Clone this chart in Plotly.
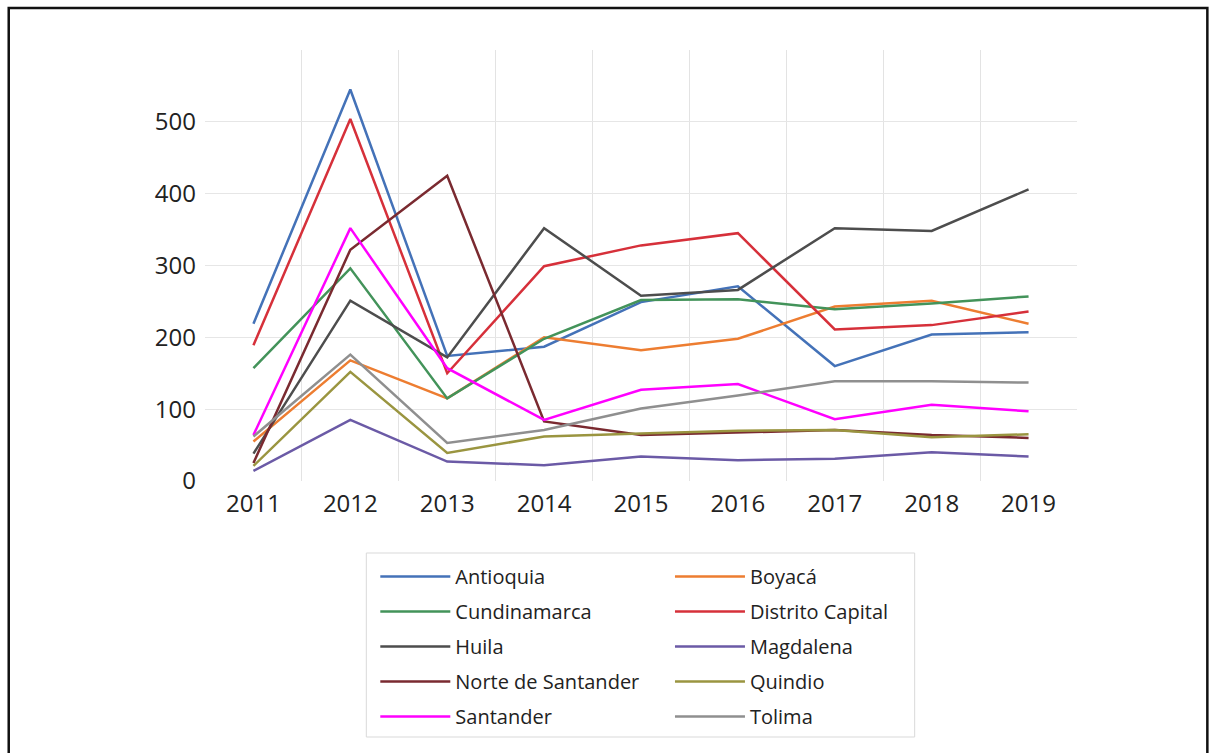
import plotly.graph_objects as go

years = ["2011", "2012", "2013", "2014", "2015", "2016", "2017", "2018", "2019"]

antioquia = [219, 545, 174, 187, 249, 271, 160, 204, 207]
boyaca = [55, 168, 115, 200, 182, 198, 243, 251, 219]
cundinamarca = [157, 296, 115, 198, 252, 253, 239, 247, 257]
distrito_capital = [189, 504, 150, 299, 328, 345, 211, 217, 236]
huila = [38, 251, 172, 352, 258, 266, 352, 348, 406]
magdalena = [14, 85, 27, 22, 34, 29, 31, 40, 34]
norte_santander = [25, 322, 425, 83, 64, 67, 71, 64, 60]
quindio = [21, 152, 39, 62, 66, 70, 71, 61, 65]
santander = [64, 352, 157, 85, 127, 135, 86, 106, 97]
tolima = [62, 176, 53, 71, 101, 119, 139, 139, 137]

names = ["Antioquia", "Boyacá", "Cundinamarca", "Distrito Capital", "Huila",
         "Magdalena", "Norte de Santander", "Quindio", "Santander", "Tolima"]
series = [antioquia, boyaca, cundinamarca, distrito_capital, huila,
          magdalena, norte_santander, quindio, santander, tolima]
colors = ["#4472b8", "#ed7d31", "#43935a", "#d6303a", "#4d4d4d",
          "#6b5aa6", "#7a2a30", "#9a9540", "#ff00ff", "#8f8f8f"]

W, H = 1210, 753
PL, PR, PT, PB = 204.5, 1077.5, 50, 481  # plot area in screen px
L, T = PL, PT
R = W - PR
B = H - PB
pw, ph = W - L - R, H - T - B

def px(xs):
    return (xs - L) / pw

def py(ys):
    return 1 - (ys - T) / ph

fig = go.Figure()
for i, (n, s, c) in enumerate(zip(names, series, colors)):
    fig.add_trace(go.Scatter(
        x=years, y=s, name=n, mode="lines",
        line=dict(color=c, width=2.5),
        legend="legend" if i % 2 == 0 else "legend2",
        legendgroup=n,
    ))

legend_common = dict(
    orientation="v", xanchor="left", yanchor="top",
    font=dict(family="Open Sans", size=20, color="#222222"),
    bgcolor="rgba(0,0,0,0)", borderwidth=0,
    itemwidth=70, tracegroupgap=6,
)

fig.update_layout(
    width=W, height=H,
    margin=dict(l=L, r=R, t=T, b=B),
    paper_bgcolor="white", plot_bgcolor="white",
    font=dict(family="Open Sans", color="#222222"),
    xaxis=dict(
        type="category", tickson="boundaries", showgrid=True,
        range=[-0.5, 8.5],
        gridcolor="#e3e3e3", gridwidth=1, ticks="", showline=False,
        tickfont=dict(size=24, color="#222222"), zeroline=False,
        ticklabelstandoff=6,
    ),
    yaxis=dict(
        range=[0, 600], tickvals=[0, 100, 200, 300, 400, 500],
        showgrid=True, gridcolor="#e6e6e6", gridwidth=1, zeroline=False,
        showline=False, ticks="", tickfont=dict(size=24, color="#222222"),
        ticklabelstandoff=8,
    ),
    legend=dict(x=px(375), y=py(557), **legend_common),
    legend2=dict(x=px(670), y=py(557), **legend_common),
    shapes=[
        dict(type="rect", xref="paper", yref="paper",
             x0=px(366), x1=px(915), y0=py(737), y1=py(553),
             line=dict(color="#d9d9d9", width=1), fillcolor="rgba(0,0,0,0)"),
        dict(type="rect", xref="paper", yref="paper",
             x0=px(8), x1=px(1208), y0=py(770), y1=py(8),
             line=dict(color="#111111", width=2.5), fillcolor="rgba(0,0,0,0)"),
    ],
    showlegend=True,
)

fig.write_html("out.html", config={"displayModeBar": False},
               post_script="document.body.style.margin='0px';")
